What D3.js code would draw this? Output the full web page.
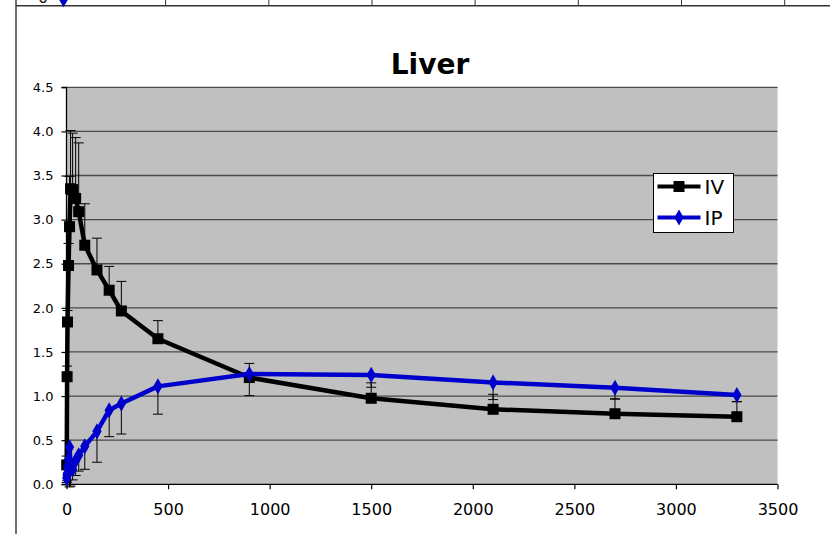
<!DOCTYPE html>
<html><head><meta charset="utf-8">
<script src="https://cdn.jsdelivr.net/npm/d3@7"></script>
<style>html,body{margin:0;padding:0;background:#fff;}svg{display:block;}</style>
</head><body>
<script>
// ---- data ----
const times      = [1, 3, 5, 10, 15, 20, 30, 45, 60, 90, 150, 210, 270, 450, 900, 1500, 2100, 2700, 3300];
const ivValues   = [0.22, 1.22, 1.84, 2.48, 2.92, 3.35, 3.34, 3.24, 3.09, 2.71, 2.43, 2.20, 1.965, 1.65, 1.21, 0.975, 0.85, 0.80, 0.766];
const ivErrPlus  = [0.10, 0.12, 0.13, 0.25, 0.57, 0.66, 0.64, 0.69, 0.78, 0.47, 0.36, 0.27, 0.335, 0.205, 0.16, 0.175, 0.17, 0.17, 0.17];
const ipValues   = [0.07, 0.12, 0.20, 0.28, 0.42, 0.22, 0.17, 0.27, 0.33, 0.43, 0.60, 0.84, 0.915, 1.11, 1.25, 1.24, 1.155, 1.095, 1.012];
const ipErrMinus = [0.05, 0.08, 0.10, 0.15, 0.45, 0.24, 0.12, 0.17, 0.18, 0.26, 0.35, 0.30, 0.345, 0.315, 0.245, 0.14, 0.195, 0.13, 0.075];
const seriesNames = ["IV", "IP"];
const xTicks = [0, 500, 1000, 1500, 2000, 2500, 3000, 3500];
const yTicks = [0, 0.5, 1.0, 1.5, 2.0, 2.5, 3.0, 3.5, 4.0, 4.5];
const title = "Liver";
// stray strip from the chart above
const prevTicksX = [165.6, 268.8, 372, 475.1, 578.3, 681.5, 784.7];

const W = 830, H = 534;
const plot = {left: 66.5, right: 777.5, top: 87.3, bottom: 484.3};
const svg = d3.select("body").append("svg").attr("width", W).attr("height", H);

// frame pieces
svg.append("line").attr("x1", 16).attr("x2", W).attr("y1", 5.8).attr("y2", 5.8).attr("stroke", "#333").attr("stroke-width", 1.4);
svg.append("line").attr("x1", 16).attr("x2", 16).attr("y1", 0).attr("y2", H).attr("stroke", "#333").attr("stroke-width", 1.4);
svg.selectAll("line.pt").data(prevTicksX).enter().append("line")
  .attr("x1", d => d).attr("x2", d => d).attr("y1", 0).attr("y2", 5).attr("stroke", "#333").attr("stroke-width", 1);
svg.append("text").attr("x", 43).attr("y", 3).attr("text-anchor", "middle")
  .attr("font-family", "DejaVu Sans").attr("font-size", 16).attr("fill", "#222").text("0");
svg.append("path").attr("d", d3.symbol(d3.symbolDiamond, 80)()).attr("transform", "translate(63.5,-1)").attr("fill", "#0000CC");

const x = d3.scaleLinear().domain([0, 3500]).range([plot.left, plot.right]);
const y = d3.scaleLinear().domain([0, 4.5]).range([plot.bottom, plot.top]);

// plot background
svg.append("rect").attr("x", plot.left).attr("y", plot.top)
  .attr("width", plot.right - plot.left).attr("height", plot.bottom - plot.top).attr("fill", "#C0C0C0");

// gridlines
svg.append("g").selectAll("line").data(yTicks.filter(d => d > 0)).enter().append("line")
  .attr("x1", plot.left).attr("x2", plot.right).attr("y1", d => y(d)).attr("y2", d => y(d))
  .attr("stroke", "#4a4a4a").attr("stroke-width", 1.3);

// axes
const yAxis = d3.axisLeft(y).tickValues(yTicks).tickFormat(d3.format(".1f")).tickSize(5).tickPadding(8);
const gy = svg.append("g").attr("transform", `translate(${plot.left},0)`).call(yAxis);
gy.select(".domain").attr("stroke", "#000").attr("stroke-width", 1.3).attr("d", `M-5,${plot.top}H0V${plot.bottom}H-5`);
gy.selectAll(".tick line").attr("stroke", "#000").attr("stroke-width", 1.2);
gy.selectAll("text").attr("font-family", "DejaVu Sans").attr("font-size", 13).attr("fill", "#000");

const xAxis = d3.axisBottom(x).tickValues(xTicks).tickFormat(d3.format("d")).tickSize(5).tickPadding(14);
const gx = svg.append("g").attr("transform", `translate(0,${plot.bottom})`).call(xAxis);
gx.select(".domain").attr("stroke", "#000").attr("stroke-width", 1.3).attr("d", `M${plot.left},0H${plot.right}`);
gx.selectAll(".tick line").attr("stroke", "#000").attr("stroke-width", 1.2);
gx.selectAll("text").attr("font-family", "DejaVu Sans").attr("font-size", 16).attr("fill", "#000");

// title
svg.append("text").attr("x", 430).attr("y", 74).attr("text-anchor", "middle")
  .attr("font-family", "DejaVu Sans").attr("font-weight", "bold").attr("font-size", 28).attr("fill", "#000").text(title);

const ivData = times.map((t, i) => ({t, v: ivValues[i], e: ivErrPlus[i]}));
const ipData = times.map((t, i) => ({t, v: ipValues[i], e: ipErrMinus[i]}));
const line = d3.line().x(d => x(d.t)).y(d => y(d.v));
const cap = 5;

function errBars(data, dir) {
  const g = svg.append("g").attr("stroke", "#000").attr("stroke-width", 1);
  data.forEach(d => {
    const yEnd = y(d.v + dir * d.e);
    g.append("line").attr("x1", x(d.t)).attr("x2", x(d.t)).attr("y1", y(d.v)).attr("y2", yEnd);
    g.append("line").attr("x1", x(d.t) - cap).attr("x2", x(d.t) + cap).attr("y1", yEnd).attr("y2", yEnd);
  });
}

// IV series
errBars(ivData, 1);
svg.append("path").datum(ivData).attr("d", line).attr("fill", "none").attr("stroke", "#000").attr("stroke-width", 4.5).attr("stroke-linejoin", "round");
svg.append("g").selectAll("rect").data(ivData).enter().append("rect")
  .attr("x", d => x(d.t) - 5.5).attr("y", d => y(d.v) - 5.5).attr("width", 11).attr("height", 11).attr("fill", "#000");

// IP series
errBars(ipData, -1);
svg.append("path").datum(ipData).attr("d", line).attr("fill", "none").attr("stroke", "#0000CC").attr("stroke-width", 4.5).attr("stroke-linejoin", "round");
svg.append("g").selectAll("path").data(ipData).enter().append("path")
  .attr("d", d3.symbol(d3.symbolDiamond, 75)()).attr("transform", d => `translate(${x(d.t)},${y(d.v)})`).attr("fill", "#0000CC");

// legend
const lg = svg.append("g").attr("transform", "translate(653.5,173.5)");
lg.append("rect").attr("width", 80).attr("height", 59).attr("fill", "#fff").attr("stroke", "#000").attr("stroke-width", 1);
const colors = ["#000", "#0000CC"];
seriesNames.forEach((name, i) => {
  const cy = 13 + i * 31;
  lg.append("line").attr("x1", 4).attr("x2", 47).attr("y1", cy).attr("y2", cy).attr("stroke", colors[i]).attr("stroke-width", 4);
  if (i === 0) lg.append("rect").attr("x", 20).attr("y", cy - 5.5).attr("width", 11).attr("height", 11).attr("fill", colors[i]);
  else lg.append("path").attr("d", d3.symbol(d3.symbolDiamond, 75)()).attr("transform", `translate(25.5,${cy})`).attr("fill", colors[i]);
  lg.append("text").attr("x", 51).attr("y", cy + 7.5).attr("font-family", "DejaVu Sans").attr("font-size", 20).attr("fill", "#000").text(name);
});
</script>
</body></html>
